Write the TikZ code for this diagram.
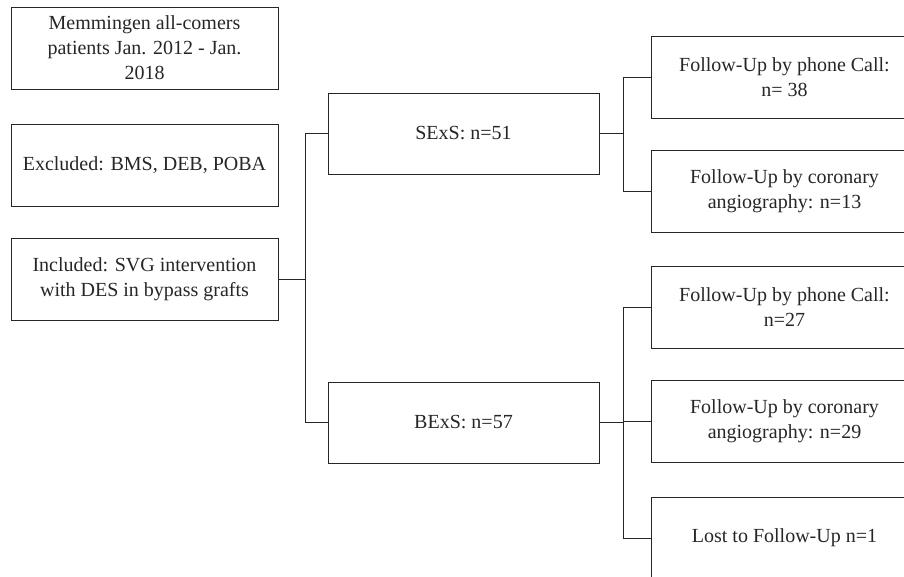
\documentclass[tikz,border=0pt]{standalone}
\usepackage{fontspec}
\setmainfont{Liberation Serif}

\begin{document}
\begin{tikzpicture}
[
	x=1pt,y=-1pt,
	every node/.style={font=\fontsize{20}{25}\selectfont,text=black!85},
	leftbox/.style={draw=black!85,line width=0.9pt,minimum width=267pt,minimum height=82pt,inner sep=0pt,align=center},
	midbox/.style={draw=black!85,line width=0.9pt,minimum width=271pt,minimum height=81pt,inner sep=0pt,align=center},
	rightbox/.style={draw=black!85,line width=0.9pt,minimum width=267pt,minimum height=82pt,inner sep=0pt,align=center},
	link/.style={draw=black!85,line width=0.9pt}
]

	\useasboundingbox (0,0) rectangle (904,577);
	\clip (0,0) rectangle (904,577);

	% left column
	\node[leftbox] at (144.5,48) (all) {Memmingen all-comers\\patients Jan. 2012 - Jan.\\2018};
	\node[leftbox] at (144.5,165.5) (excl) {Excluded: BMS, DEB, POBA};
	\node[leftbox] at (144.5,279.5) (incl) {Included: SVG intervention\\with DES in bypass grafts};

	% middle column
	\node[midbox] at (463.5,133.5) (sexs) {SExS: n=51};
	\node[midbox] at (463.5,422.5) (bexs) {BExS: n=57};

	% right column
	\node[rightbox] at (784.5,77) (phoneA) {Follow-Up by phone Call:\\n= 38};
	\node[rightbox] at (784.5,191) (angioA) {Follow-Up by coronary\\angiography: n=13};
	\node[rightbox] at (784.5,307.5) (phoneB) {Follow-Up by phone Call:\\n=27};
	\node[rightbox] at (784.5,421.5) (angioB) {Follow-Up by coronary\\angiography: n=29};
	\node[rightbox] at (784.5,538) (lost) {Lost to Follow-Up n=1};

	% connectors
	\draw[link] (incl.east) -- ++(27,0) coordinate (splitA);
	\draw[link] (splitA) |- (sexs.west);
	\draw[link] (splitA) |- (bexs.west);

	\draw[link] (sexs.east) -- ++(24,0) coordinate (splitB);
	\draw[link] (splitB) |- (phoneA.west);
	\draw[link] (splitB) |- (angioA.west);

	\draw[link] (bexs.east) -- ++(24,0) coordinate (splitC);
	\draw[link] (splitC) |- (phoneB.west);
	\draw[link] (splitC) |- (angioB.west);
	\draw[link] (splitC) |- (lost.west);

\end{tikzpicture}
\end{document}
